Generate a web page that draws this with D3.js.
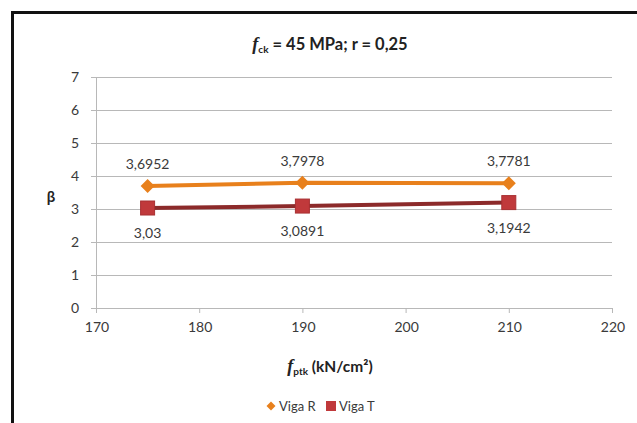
<!DOCTYPE html>
<html lang="pt">
<head>
<meta charset="UTF-8">
<script src="https://cdn.jsdelivr.net/npm/d3@7/dist/d3.min.js"></script>
<style>
    body{margin:0;background:#fff;}
    svg text{font-family:Lato,"Open Sans",sans-serif;}
</style>
<title>beta x fptk</title>
</head>
<body>
<svg id="chart"></svg>
<script>
    // dados
    var fptk=[175,190,210];
    var vigaR=[3.6952,3.7978,3.7781];
    var vigaT=[3.03,3.0891,3.1942];
    var labelsR=["3,6952","3,7978","3,7781"];
    var labelsT=["3,03","3,0891","3,1942"];
    var xTicks=[170,180,190,200,210,220];
    var yTicks=[0,1,2,3,4,5,6,7];

    var width=637,height=423;
    var svg=d3.select("#chart").attr("width",width).attr("height",height);

    // moldura
    svg.append("path")
        .attr("d","M12.5,"+height+"V12.5H"+width)
        .attr("fill","none")
        .attr("stroke","#111")
        .attr("stroke-width",3);

    var x=d3.scaleLinear().domain([170,220]).range([96,612]);
    var y=d3.scaleLinear().domain([0,7]).range([308,77]);

    // grade
    svg.append("g").selectAll("line").data(yTicks).enter().append("line")
        .attr("x1",x(170)-5).attr("x2",x(220))
        .attr("y1",function(d){return y(d)+0.5;})
        .attr("y2",function(d){return y(d)+0.5;})
        .attr("stroke","#b8b8b8").attr("stroke-width",1);

    // eixo y
    svg.append("line")
        .attr("x1",x(170)+0.5).attr("x2",x(170)+0.5)
        .attr("y1",y(7)).attr("y2",y(0))
        .attr("stroke","#b8b8b8");
    // ticks eixo x
    svg.append("g").selectAll("line").data(xTicks).enter().append("line")
        .attr("x1",function(d){return x(d)+0.5;})
        .attr("x2",function(d){return x(d)+0.5;})
        .attr("y1",y(0)).attr("y2",y(0)+5)
        .attr("stroke","#b8b8b8");

    svg.append("g").selectAll("text").data(yTicks).enter().append("text")
        .attr("x",x(170)-17).attr("y",function(d){return y(d)+5;})
        .attr("text-anchor","end")
        .attr("font-size",14).attr("fill","#3a3a3a")
        .text(function(d){return d;});

    svg.append("g").selectAll("text").data(xTicks).enter().append("text")
        .attr("x",function(d){return x(d)+1;}).attr("y",y(0)+24)
        .attr("text-anchor","middle")
        .attr("font-size",14).attr("fill","#3a3a3a")
        .text(function(d){return d;});

    // titulo
    var title=svg.append("text").attr("x",330).attr("y",50)
        .attr("text-anchor","middle").attr("font-size",16.5).attr("font-weight","bold").attr("fill","#222");
    title.append("tspan").attr("font-style","italic").attr("font-family","'Liberation Serif',serif").attr("font-size",18).text("f");
    title.append("tspan").attr("font-size",10).attr("dy",3).text("ck");
    title.append("tspan").attr("dy",-3).text(" = 45 MPa; r = 0,25");

    // rotulos dos eixos
    svg.append("text").attr("x",51).attr("y",202)
        .attr("text-anchor","middle").attr("font-size",15).attr("font-weight","bold").attr("fill","#222")
        .text("β");

    var xl=svg.append("text").attr("x",330).attr("y",372)
        .attr("text-anchor","middle").attr("font-size",15.5).attr("font-weight","bold").attr("fill","#222");
    xl.append("tspan").attr("font-style","italic").attr("font-family","'Liberation Serif',serif").attr("font-size",18).text("f");
    xl.append("tspan").attr("font-size",10).attr("dy",3).text("ptk");
    xl.append("tspan").attr("dy",-3).text(" (kN/cm²)");

    // series
    var line=d3.line().x(function(d){return x(d[0]);}).y(function(d){return y(d[1]);});
    var dataR=fptk.map(function(f,i){return [f,vigaR[i]];});
    var dataT=fptk.map(function(f,i){return [f,vigaT[i]];});

    svg.append("path").datum(dataR).attr("d",line)
        .attr("fill","none").attr("stroke","#e8801c").attr("stroke-width",4);
    svg.append("path").datum(dataT).attr("d",line)
        .attr("fill","none").attr("stroke","#8c2a2a").attr("stroke-width",4);

    // losango mais largo que o do d3
    function losango(w,h){return "M0,"+(-h)+"L"+w+",0L0,"+h+"L"+(-w)+",0Z";}
    svg.append("g").selectAll("path").data(dataR).enter().append("path")
        .attr("d",losango(7,7))
        .attr("transform",function(d){return "translate("+x(d[0])+","+y(d[1])+")";})
        .attr("fill","#e8801c");
    svg.append("g").selectAll("rect").data(dataT).enter().append("rect")
        .attr("x",function(d){return x(d[0])-7;})
        .attr("y",function(d){return y(d[1])-7;})
        .attr("width",14).attr("height",14)
        .attr("fill","#c0393b").attr("stroke","#a83032");

    // rotulos de dados
    svg.append("g").selectAll("text").data(dataR).enter().append("text")
        .attr("x",function(d){return x(d[0]);})
        .attr("y",function(d,i){return y(d[1])-17;})
        .attr("text-anchor","middle").attr("font-size",14).attr("fill","#3a3a3a")
        .text(function(d,i){return labelsR[i];});
    svg.append("g").selectAll("text").data(dataT).enter().append("text")
        .attr("x",function(d){return x(d[0]);})
        .attr("y",function(d,i){return y(d[1])+30;})
        .attr("text-anchor","middle").attr("font-size",14).attr("fill","#3a3a3a")
        .text(function(d,i){return labelsT[i];});

    // legenda
    var leg=svg.append("g");
    leg.append("path").attr("d",losango(4.5,4.5))
        .attr("transform","translate(271,406)").attr("fill","#e8801c");
    leg.append("text").attr("x",279).attr("y",411).attr("font-size",13).attr("fill","#3a3a3a").text("Viga R");
    leg.append("rect").attr("x",326).attr("y",401).attr("width",10).attr("height",10).attr("fill","#c0393b");
    leg.append("text").attr("x",339).attr("y",411).attr("font-size",13).attr("fill","#3a3a3a").text("Viga T");
</script>
</body>
</html>
